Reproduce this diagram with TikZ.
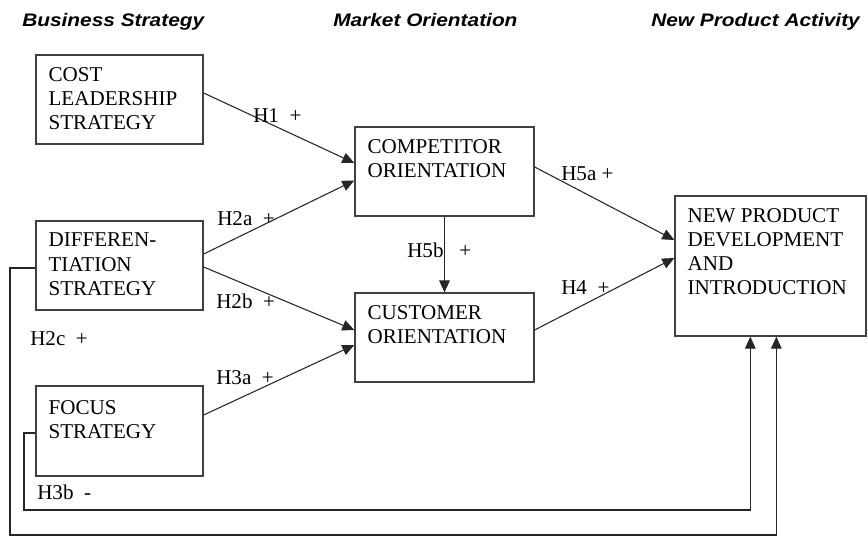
\documentclass[tikz,border=0pt]{standalone}
\usepackage{fontspec}
\setmainfont{Liberation Serif}
\newfontfamily\headfont[FakeStretch=1.15]{Liberation Sans}
\usetikzlibrary{calc, fit, arrows.meta}

\newcommand{\boxfont}{\fontsize{15.8}{18.2}\selectfont}
\tikzset{
  box/.style = {draw=black!75, line width=1pt, inner sep=0pt},
  boxtext/.style = {anchor=north west, align=left, inner sep=0pt, font=\boxfont},
  hyp/.style = {anchor=base west, inner sep=0pt, font=\boxfont},
  head/.style = {anchor=base west, inner sep=0pt,
    font=\headfont\bfseries\itshape\fontsize{13.6}{15}\selectfont},
  arr/.style = {draw=black!85, line width=0.8pt, -{Triangle[length=9pt, width=8pt]}},
}

\begin{document}
\begin{tikzpicture}[x=0.75pt, y=-0.75pt]
  \useasboundingbox (0,0) rectangle (868,536);

  % column headings
  \node[head] (head-bs) at (22,26) {Business Strategy};
  \node[head] (head-mo) at (333,26) {Market Orientation};
  \node[head] (head-np) at (651,26) {New Product Activity};

  % boxes
  \node[box, fit={(36,55) (203,144)}] (cost) {};
  \node[box, fit={(36,221) (203,310)}] (diff) {};
  \node[box, fit={(36,386) (203,476)}] (focus) {};
  \node[box, fit={(355,127) (534,216)}] (comp) {};
  \node[box, fit={(355,293) (534,382)}] (cust) {};
  \node[box, fit={(675,196) (866,336)}] (npd) {};

  \node[boxtext] (cost-t) at ($(cost.north west)+(13,12.5)$) {COST\\LEADERSHIP\\STRATEGY};
  \node[boxtext] (diff-t) at ($(diff.north west)+(13,12.5)$) {DIFFEREN-\\TIATION\\STRATEGY};
  \node[boxtext] (focus-t) at ($(focus.north west)+(13,14.5)$) {FOCUS\\STRATEGY};
  \node[boxtext] (comp-t) at ($(comp.north west)+(13,12.5)$) {COMPETITOR\\ORIENTATION};
  \node[boxtext] (cust-t) at ($(cust.north west)+(13,12.5)$) {CUSTOMER\\ORIENTATION};
  \node[boxtext] (npd-t) at ($(npd.north west)+(13,12.5)$) {NEW PRODUCT\\DEVELOPMENT\\AND\\INTRODUCTION};

  % hypothesised paths
  \draw[arr] ($(cost.east)+(0,-6.5)$) -- ($(comp.west)+(0,-8.5)$);
  \draw[arr] ($(diff.east)+(0,-11.5)$) -- ($(comp.west)+(0,9)$);
  \draw[arr] ($(diff.east)+(0,1.5)$) -- ($(cust.west)+(0,-7.5)$);
  \draw[arr] ($(focus.east)+(0,-16)$) -- ($(cust.west)+(0,7.5)$);
  \draw[arr] ($(comp.east)+(0,-4.5)$) -- ($(npd.west)+(0,-26)$);
  \draw[arr] ($(cust.east)+(0,-7.5)$) -- ($(npd.west)+(0,-8)$);
  \draw[arr] (comp.south) -- (cust.north);

  % direct paths round the bottom
  \coordinate (h2c-bend) at (10,535);
  \coordinate (h3b-bend) at (24,510);
  \draw[arr] ($(diff.west)+(0,2.5)$) -| (h2c-bend) -| ($(npd.south west)+(102,0)$);
  \draw[arr] ($(focus.west)+(0,2)$) -| (h3b-bend) -| ($(npd.south west)+(76,0)$);

  % path labels
  \node[hyp] (l-h1)  at (253,122) {H1~~+};
  \node[hyp] (l-h2a) at (217,225) {H2a~~+};
  \node[hyp] (l-h2b) at (216,308) {H2b~~+};
  \node[hyp] (l-h2c) at (30,345)  {H2c~~+};
  \node[hyp] (l-h3a) at (216,384) {H3a~~+};
  \node[hyp] (l-h3b) at (37,499)  {H3b~~-};
  \node[hyp] (l-h5b) at (407,257) {H5b~~~+};
  \node[hyp] (l-h5a) at (561,180) {H5a~+};
  \node[hyp] (l-h4)  at (561,294) {H4~~+};
\end{tikzpicture}
\end{document}
